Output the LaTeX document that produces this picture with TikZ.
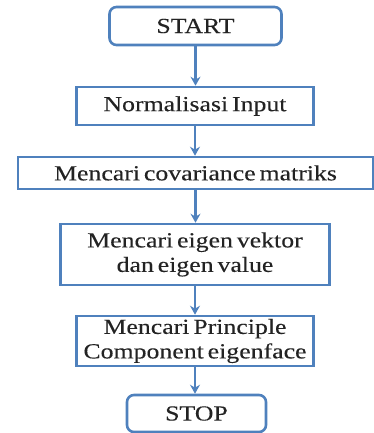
\documentclass[tikz,border=0pt]{standalone}
\usepackage{fontspec}
\setmainfont[FakeStretch=1.2,WordSpace=0.6,FakeBold=0.12]{Liberation Serif}
\usetikzlibrary{arrows.meta}
\definecolor{lineblue}{RGB}{79,129,189}
\definecolor{txt}{RGB}{35,35,35}
\begin{document}
\begin{tikzpicture}[x=1pt,y=-1pt,
  box/.style={draw=lineblue,line width=2.6pt,fill=white,inner sep=0pt,align=center,
    text=txt,font=\fontsize{21.5}{24.5}\selectfont},
  term/.style={box,rounded corners=7pt},
  flow/.style={draw=lineblue,line width=2.2pt,-{Stealth[length=9pt,width=10pt,inset=3pt]}}]
\useasboundingbox (0,0) rectangle (374,433);
\node[term,minimum width=172pt,minimum height=38pt] (start) at (195.5,26) {START};
\node[box,minimum width=237pt,minimum height=38pt] (norm) at (195,106) {Normalisasi Input};
\node[box,minimum width=355pt,minimum height=32pt] (cov) at (195.5,173) {Mencari covariance matriks};
\node[box,minimum width=269pt,minimum height=61pt] (eig) at (195,254.5) {Mencari eigen vektor\\dan eigen value};
\node[box,minimum width=237pt,minimum height=50pt] (pc) at (195,341) {Mencari Principle\\Component eigenface};
\node[term,minimum width=139pt,minimum height=37pt] (stop) at (196.5,413.5) {STOP};
\draw[flow] (start.south) -- (start.south |- norm.north);
\draw[flow] (norm.south) -- (norm.south |- cov.north);
\draw[flow] (cov.south) -- (cov.south |- eig.north);
\draw[flow] (eig.south) -- (eig.south |- pc.north);
\draw[flow] (pc.south) -- (pc.south |- stop.north);
\end{tikzpicture}
\end{document}
